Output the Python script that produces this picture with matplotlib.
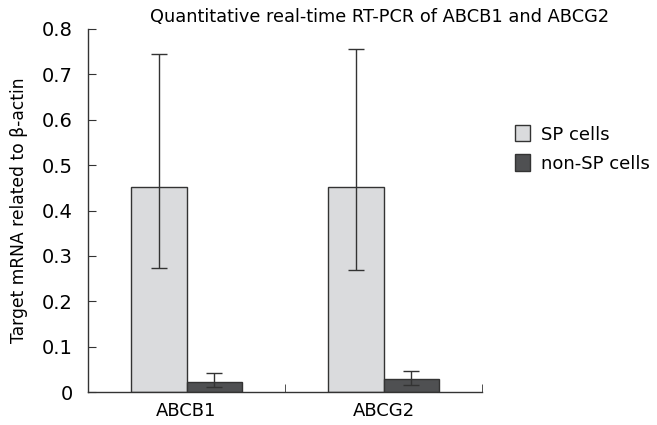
import numpy as np
import matplotlib
matplotlib.use("Agg")
import matplotlib.pyplot as plt
from matplotlib.ticker import FuncFormatter

## Data
genes = ['ABCB1', 'ABCG2']
series = ['SP cells', 'non-SP cells']
sp_mean = [0.452, 0.452]
sp_err_up = [0.294, 0.303]
sp_err_down = [0.178, 0.183]
nonsp_mean = [0.021, 0.028]
nonsp_err_up = [0.021, 0.019]
nonsp_err_down = [0.009, 0.013]

colors = ['#dadbdd', '#4f5052']
edge = '#333333'

plt.rcParams['font.family'] = ['DejaVu Sans']

fig = plt.figure(figsize=(6.57, 4.25), dpi=100)
ax = fig.add_axes([88/657, 33/425, (482-88)/657, (392-29)/425])

x = np.arange(len(genes))
w = 0.28
ekw = dict(ecolor=edge, elinewidth=1.0, capsize=6, capthick=1.0)
ax.bar(x - w/2, sp_mean, w, color=colors[0], edgecolor=edge, linewidth=1.0,
       yerr=[sp_err_down, sp_err_up], error_kw=ekw, label=series[0])
ax.bar(x + w/2, nonsp_mean, w, color=colors[1], edgecolor=edge, linewidth=1.0,
       yerr=[nonsp_err_down, nonsp_err_up], error_kw=ekw, label=series[1])

ax.set_xlim(-0.5, len(genes) - 0.5)
ax.set_ylim(0, 0.8)
ax.set_yticks(np.arange(0, 0.81, 0.1))
ax.yaxis.set_major_formatter(FuncFormatter(lambda v, p: '0' if abs(v) < 1e-9 else '%.1f' % v))
ax.set_xticks(x)
ax.set_xticklabels(genes)
ax.set_xticks(np.arange(-0.5, len(genes), 1.0), minor=True)
ax.tick_params(axis='x', which='major', length=0, labelsize=13, pad=7)
ax.tick_params(axis='x', which='minor', direction='in', length=6, color=edge)
ax.tick_params(axis='y', direction='in', length=6, color=edge, labelsize=14, pad=11)

for s in ['top', 'right']:
    ax.spines[s].set_visible(False)
for s in ['left', 'bottom']:
    ax.spines[s].set_color(edge)
    ax.spines[s].set_linewidth(1.0)

fig.text(19/657, 1 - 210/425, 'Target mRNA related to \u03b2-actin', rotation=90,
         ha='center', va='center', fontsize=12.3)
fig.text(380/657, 1 - 17/425, 'Quantitative real-time RT-PCR of ABCB1 and ABCG2',
         ha='center', va='center', fontsize=12.8)

ax.legend(loc='center left', bbox_to_anchor=(515/657, 1 - 149/425), bbox_transform=fig.transFigure,
          frameon=False, fontsize=13, handlelength=0.85, handleheight=1.0,
          handletextpad=0.6, labelspacing=0.6, borderpad=0, borderaxespad=0)

fig.savefig('out.png', dpi=100)
